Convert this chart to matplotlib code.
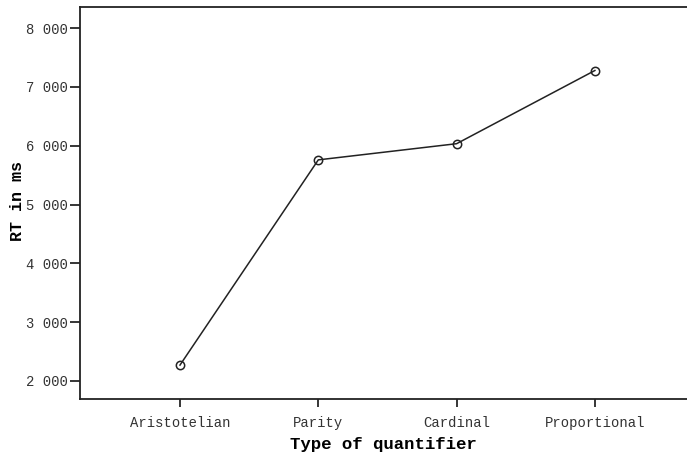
import matplotlib
matplotlib.use("Agg")
import matplotlib.pyplot as plt
from matplotlib.ticker import FuncFormatter

# mean reaction times per quantifier type
quantifiers = ["Aristotelian", "Parity", "Cardinal", "Proportional"]
rt_means = [2270, 5760, 6035, 7280]
y_ticks = [2000, 3000, 4000, 5000, 6000, 7000, 8000]

plt.rcParams['font.family'] = ['Liberation Mono', 'DejaVu Sans Mono']

fig = plt.figure(figsize=(6.87, 4.54), dpi=100)
ax = fig.add_axes([80 / 687, 1 - 399 / 454, 1 - 80 / 687, 392 / 454])

x = list(range(len(quantifiers)))
ax.plot(x, rt_means, color='#222222', linewidth=1.1, marker='o', markersize=6,
        markerfacecolor='none', markeredgecolor='#222222', markeredgewidth=1.1)

ax.set_xlim(-0.723, 3.666)
ax.set_ylim(1693, 8360)
ax.set_xticks(x)
ax.set_xticklabels(quantifiers)
ax.set_yticks(y_ticks)
ax.yaxis.set_major_formatter(FuncFormatter(lambda v, p: f"{int(v):,}".replace(",", " ")))

ax.spines['right'].set_visible(False)
for s in ['left', 'bottom', 'top']:
    ax.spines[s].set_linewidth(1.3)
    ax.spines[s].set_color('#222222')

ax.tick_params(axis='y', length=7, width=1.1, labelsize=10, labelcolor='#333333', pad=2)
ax.tick_params(axis='x', length=6, width=1.1, labelsize=10, labelcolor='#333333', pad=6)

ax.set_xlabel("Type of quantifier", fontsize=12.5, fontweight='bold', labelpad=5)
ax.set_ylabel("RT in ms", fontsize=12, fontweight='bold', va='center')
ax.yaxis.set_label_coords(-0.103, 0.505)

fig.savefig("out.png", dpi=100)
